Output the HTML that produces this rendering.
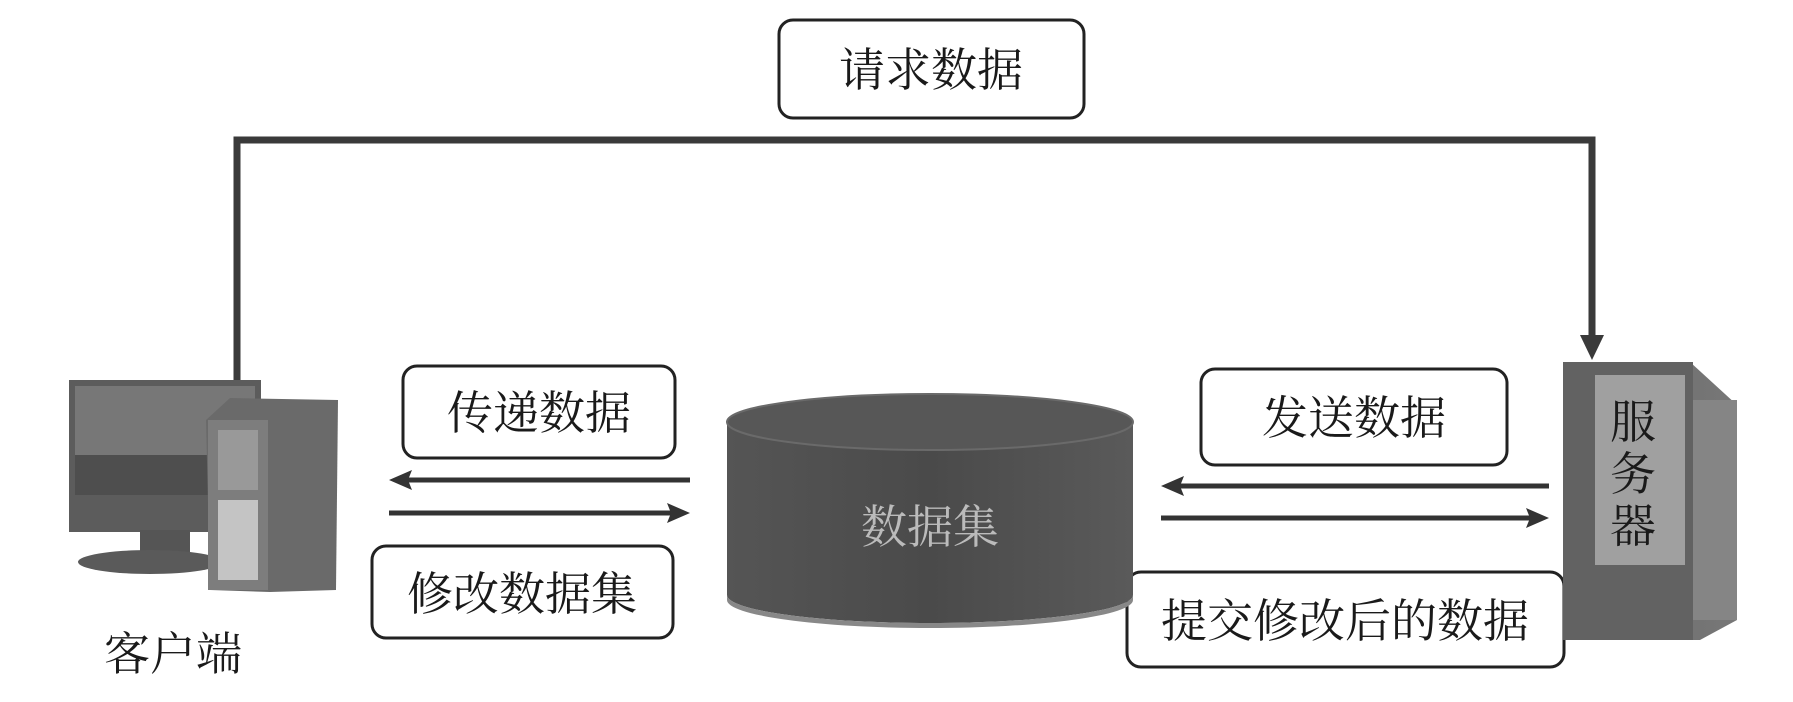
<!DOCTYPE html>
<html><head><meta charset="utf-8"><style>
html,body{margin:0;padding:0;background:#fff;}
svg{display:block;}
text{font-family:"Liberation Serif","Noto Serif CJK SC","Noto Sans CJK SC",serif;fill:#1a1a1a;}
</style></head><body>
<svg width="1793" height="702" viewBox="0 0 1793 702" xmlns="http://www.w3.org/2000/svg">
<defs>
<linearGradient id="cyl" x1="0" x2="1" y1="0" y2="0">
<stop offset="0" stop-color="#555"/><stop offset="0.5" stop-color="#4a4a4a"/><stop offset="1" stop-color="#5a5a5a"/></linearGradient>
<linearGradient id="srv" x1="0" x2="1"><stop offset="0" stop-color="#6a6a6a"/><stop offset="1" stop-color="#777"/></linearGradient>
</defs>

<!-- top connector -->
<polyline points="237,380 237,140 1592,140 1592,340" fill="none" stroke="#3a3a3a" stroke-width="7"/>
<polygon points="1580,335 1604,335 1592,360" fill="#3a3a3a"/>

<!-- boxes -->
<g fill="#fff" stroke="#222" stroke-width="3">
<rect x="779" y="20" width="305" height="98" rx="14"/>
<rect x="403" y="366" width="272" height="92" rx="14"/>
<rect x="372" y="546" width="301" height="92" rx="14"/>
<rect x="1201" y="369" width="306" height="96" rx="14"/>
<rect x="1127" y="572" width="437" height="95" rx="14"/>
</g>
<g font-size="46" text-anchor="middle">
<text x="931" y="86">请求数据</text>
<text x="539" y="429">传递数据</text>
<text x="522" y="610">修改数据集</text>
<text x="1354" y="434">发送数据</text>
<text x="1345" y="637">提交修改后的数据</text>
</g>

<!-- arrows left -->
<g stroke="#333" stroke-width="5">
<line x1="690" y1="480" x2="405" y2="480"/>
<line x1="389" y1="513" x2="675" y2="513"/>
<line x1="1549" y1="486" x2="1178" y2="486"/>
<line x1="1161" y1="518" x2="1532" y2="518"/>
</g>
<g fill="#333">
<polygon points="389,480 412,470 408,480 412,490"/>
<polygon points="690,513 667,503 671,513 667,523"/>
<polygon points="1161,486 1184,476 1180,486 1184,496"/>
<polygon points="1549,518 1526,508 1530,518 1526,528"/>
</g>

<!-- cylinder -->
<path d="M727,422 L727,595 A203,28 0 0 0 1133,595 L1133,422 Z" fill="url(#cyl)"/>
<ellipse cx="930" cy="422" rx="203" ry="28" fill="#575757" stroke="#6a6a6a" stroke-width="2"/>
<path d="M727,595 A203,28 0 0 0 1133,595 L1133,600 A203,28 0 0 1 727,600Z" fill="#888"/>
<text x="930" y="543" font-size="46" text-anchor="middle" style="fill:#bbb">数据集</text>

<!-- client PC -->
<rect x="69" y="380" width="192" height="152" fill="#5c5c5c"/>
<rect x="75" y="386" width="180" height="95" fill="#777"/>
<rect x="75" y="455" width="180" height="40" fill="#4e4e4e"/>
<rect x="140" y="530" width="50" height="30" fill="#555"/>
<ellipse cx="150" cy="562" rx="72" ry="12" fill="#5a5a5a"/>
<polygon points="206,420 230,398 338,400 336,590 270,592 210,590" fill="#6a6a6a"/>
<rect x="208" y="420" width="60" height="170" fill="#7d7d7d"/>
<rect x="218" y="430" width="40" height="60" fill="#999"/>
<rect x="218" y="500" width="40" height="80" fill="#c4c4c4"/>
<text x="173" y="670" font-size="46" text-anchor="middle">客户端</text>

<!-- server -->
<polygon points="1563,362 1690,362 1737,405 1737,620 1700,640 1563,640" fill="url(#srv)"/>
<rect x="1563" y="362" width="130" height="278" fill="#626262"/>
<rect x="1595" y="375" width="90" height="190" fill="#a0a0a0"/>
<rect x="1693" y="400" width="44" height="220" fill="#858585"/>
<g font-size="46" text-anchor="middle" style="fill:#2a2a2a">
<text x="1633" y="438">服</text>
<text x="1633" y="490">务</text>
<text x="1633" y="542">器</text>
</g>
</svg>
</body></html>
